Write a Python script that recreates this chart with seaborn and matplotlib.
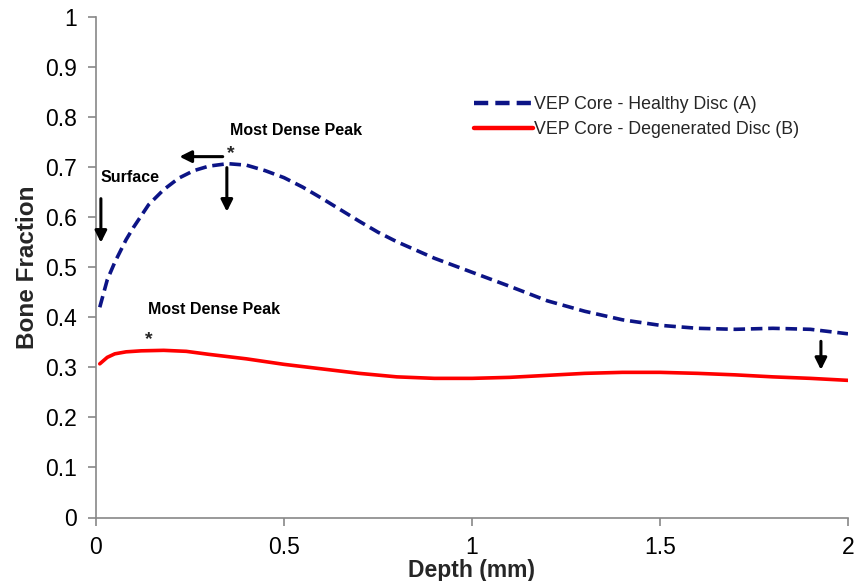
import matplotlib
matplotlib.use("Agg")
import matplotlib.pyplot as plt
import numpy as np
import pandas as pd
import seaborn as sns

# Bone fraction profiles through the vertebral endplate (VEP) core
depth_a = [0.01, 0.03, 0.05, 0.08, 0.10, 0.14, 0.18, 0.22, 0.26, 0.30, 0.35,
           0.40, 0.45, 0.50, 0.55, 0.60, 0.65, 0.70, 0.75, 0.80, 0.90, 1.00,
           1.10, 1.20, 1.30, 1.40, 1.50, 1.60, 1.70, 1.80, 1.90, 2.00]
bone_a = [0.420, 0.475, 0.510, 0.555, 0.580, 0.625, 0.655, 0.678, 0.693, 0.702, 0.707,
          0.704, 0.693, 0.679, 0.660, 0.638, 0.615, 0.592, 0.570, 0.551, 0.518, 0.490,
          0.462, 0.433, 0.412, 0.395, 0.384, 0.378, 0.376, 0.378, 0.376, 0.367]

depth_b = [0.01, 0.03, 0.05, 0.08, 0.12, 0.18, 0.24, 0.30, 0.40, 0.50, 0.60, 0.70,
           0.80, 0.90, 1.00, 1.10, 1.20, 1.30, 1.40, 1.50, 1.60, 1.70, 1.80, 1.90, 2.00]
bone_b = [0.307, 0.320, 0.327, 0.331, 0.333, 0.334, 0.332, 0.326, 0.317, 0.306, 0.297, 0.288,
          0.281, 0.278, 0.278, 0.280, 0.284, 0.288, 0.290, 0.290, 0.288, 0.285, 0.281, 0.278, 0.274]

label_a = "VEP Core - Healthy Disc (A)"
label_b = "VEP Core - Degenerated Disc (B)"

x_ticks = [0, 0.5, 1, 1.5, 2]
x_tick_labels = ["0", "0.5", "1", "1.5", "2"]
y_ticks = [0, 0.1, 0.2, 0.3, 0.4, 0.5, 0.6, 0.7, 0.8, 0.9, 1.0]
y_tick_labels = ["0", "0.1", "0.2", "0.3", "0.4", "0.5", "0.6", "0.7", "0.8", "0.9", "1"]

df = pd.concat([
    pd.DataFrame({"Depth": depth_a, "Bone": bone_a, "Sample": label_a}),
    pd.DataFrame({"Depth": depth_b, "Bone": bone_b, "Sample": label_b}),
], ignore_index=True)

sns.set_style("ticks")
plt.rcParams["font.family"] = ["Liberation Sans", "DejaVu Sans"]

fig = plt.figure(figsize=(8.58, 5.81), dpi=100)
ax = fig.add_axes([96 / 858, 1 - 517.5 / 581, (848 - 96) / 858, (517.5 - 17) / 581])

sns.lineplot(data=df, x="Depth", y="Bone", hue="Sample", style="Sample",
             palette={label_a: "#0c1486", label_b: "#ff0000"},
             dashes={label_a: (3.2, 1.6), label_b: ""},
             linewidth=2.6, ax=ax, legend=True, sort=False)

ax.set_xlim(0, 2)
ax.set_ylim(0, 1)
ax.set_xticks(x_ticks)
ax.set_xticklabels(x_tick_labels)
ax.set_yticks(y_ticks)
ax.set_yticklabels(y_tick_labels)
ax.tick_params(axis="both", labelsize=16.5, colors="#888888", labelcolor="black",
               length=5.5, width=1.2)
ax.tick_params(axis="y", pad=8)
ax.tick_params(axis="x", pad=8)
for side in ("left", "bottom"):
    ax.spines[side].set_color("#888888")
    ax.spines[side].set_linewidth(1.2)
sns.despine(ax=ax)

ax.set_xlabel("Depth (mm)", fontsize=16.5, fontweight="bold")
ax.set_ylabel("Bone Fraction", fontsize=17.5, fontweight="bold")
ax.xaxis.label.set_va("center")
ax.xaxis.set_label_coords(0.5, -0.106)
ax.yaxis.label.set_va("center")
ax.yaxis.label.set_ha("center")
ax.yaxis.set_label_coords(-0.091, 0.5)

leg = ax.legend(loc="upper left", bbox_to_anchor=(474 / 858, 1 - 96 / 581),
                bbox_transform=fig.transFigure, frameon=False, fontsize=12.8,
                handlelength=3.3, handletextpad=0.05, borderpad=0, borderaxespad=0,
                labelspacing=0.45)
for h in leg.get_lines():
    h.set_linewidth(3.2)

# Annotations
note = dict(fontsize=11.5, fontweight="bold", color="black")
arrow = dict(arrowstyle="-|>,head_width=0.35,head_length=0.7", lw=2.2, color="black",
             shrinkA=0, shrinkB=0)

ax.text(0.011, 0.679, "Surface", ha="left", va="center", **note)
ax.annotate("", xy=(0.013, 0.549), xytext=(0.013, 0.637), arrowprops=arrow)

ax.text(0.356, 0.773, "Most Dense Peak", ha="left", va="center", **note)
ax.text(0.359, 0.727, "*", ha="center", va="center", fontsize=14, fontweight="bold")
ax.annotate("", xy=(0.222, 0.721), xytext=(0.337, 0.721), arrowprops=arrow)
ax.annotate("", xy=(0.348, 0.611), xytext=(0.348, 0.699), arrowprops=arrow)

ax.text(0.138, 0.415, "Most Dense Peak", ha="left", va="center", **note)
ax.text(0.141, 0.355, "*", ha="center", va="center", fontsize=14, fontweight="bold")

ax.annotate("", xy=(1.928, 0.295), xytext=(1.928, 0.352), arrowprops=arrow)

fig.savefig("out.png", dpi=100)
